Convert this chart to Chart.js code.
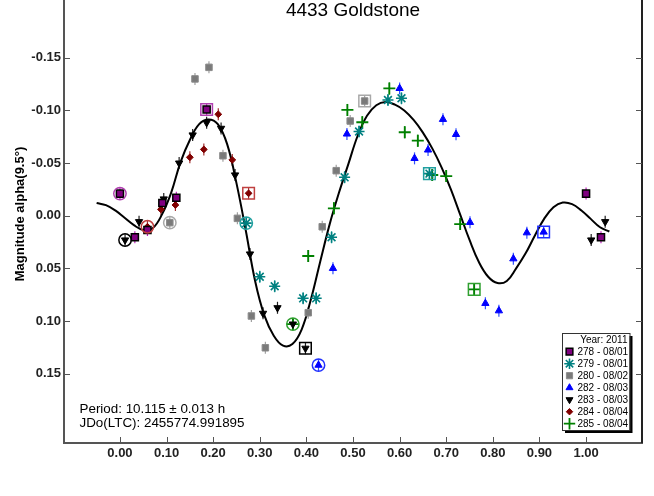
<!DOCTYPE html>
<html>
<head>
<meta charset="utf-8">
<script src="https://cdn.jsdelivr.net/npm/chart.js@4.4.1/dist/chart.umd.min.js"></script>
<style>
    html, body { margin: 0; padding: 0; background: #fff; }
    canvas { display: block; }
</style>
</head>
<body>
<canvas id="lcChart" width="654" height="496"></canvas>
<script>
    // ─── DATA ───
    const xTicks = [0.00, 0.10, 0.20, 0.30, 0.40, 0.50, 0.60, 0.70, 0.80, 0.90, 1.00];
    const yTicks = [-0.15, -0.10, -0.05, 0.00, 0.05, 0.10, 0.15];

    // fourier fit
    const fitPhase = [-0.05, -0.03, -0.01, 0.01, 0.03, 0.05, 0.07, 0.09, 0.11, 0.13, 0.15, 0.17, 0.19, 0.21, 0.23,
        0.25, 0.27, 0.29, 0.31, 0.33, 0.35, 0.37, 0.39, 0.41, 0.43, 0.45, 0.47, 0.49, 0.51, 0.53, 0.55, 0.57, 0.59,
        0.61, 0.63, 0.65, 0.67, 0.69, 0.71, 0.73, 0.75, 0.77, 0.79, 0.81, 0.83, 0.85, 0.87, 0.89, 0.91, 0.93, 0.95,
        0.97, 0.99, 1.01, 1.03, 1.05];
    const fitMag = [-0.012, -0.010, -0.005, 0.002, 0.009, 0.0135, 0.012, -0.001, -0.022, -0.051, -0.072, -0.087,
        -0.0915, -0.087, -0.068, -0.031, 0.014, 0.062, 0.095, 0.114, 0.1235, 0.122, 0.108, 0.079, 0.043, 0.008,
        -0.022, -0.049, -0.076, -0.095, -0.105, -0.108, -0.1055, -0.100, -0.091, -0.079, -0.064, -0.046, -0.025,
        -0.001, 0.023, 0.044, 0.058, 0.064, 0.062, 0.050, 0.036, 0.019, 0.003, -0.008, -0.0125, -0.011, -0.005,
        0.003, 0.011, 0.015];

    // sessions: [phase, mag], in time order (first one gets a circle, last one a box)
    const s278 = [[0.000, -0.021], [0.032, 0.0205], [0.059, 0.0136], [0.091, -0.012], [0.121, -0.017], [0.186, -0.101]];
    const s279 = [[0.271, 0.007], [0.300, 0.058], [0.332, 0.067], [0.393, 0.0785], [0.421, 0.0785], [0.454, 0.0205],
        [0.482, -0.0365], [0.513, -0.080], [0.575, -0.110], [0.604, -0.1116], [0.664, -0.040]];
    const s280 = [[0.107, 0.0066], [0.161, -0.130], [0.191, -0.141], [0.221, -0.057], [0.252, 0.0025], [0.282, 0.0953],
        [0.312, 0.1255], [0.404, 0.0922], [0.434, 0.0105], [0.464, -0.0428], [0.494, -0.090], [0.525, -0.109]];
    const s282 = [[0.426, 0.142], [0.457, 0.050], [0.487, -0.0777], [0.600, -0.121], [0.632, -0.0545], [0.661, -0.0625],
        [0.693, -0.0916], [0.721, -0.0773], [0.751, 0.0063], [0.784, 0.0833], [0.813, 0.0903], [0.844, 0.0409],
        [0.873, 0.0162], [0.909, 0.0155]];
    const s283 = [[0.011, 0.0231], [0.041, 0.0057], [0.094, -0.0159], [0.127, -0.050], [0.156, -0.0767], [0.186, -0.0884],
        [0.217, -0.083], [0.247, -0.0387], [0.279, 0.0364], [0.307, 0.0928], [0.338, 0.0875], [0.371, 0.103],
        [0.398, 0.126]];
    const s284 = [[0.059, 0.0105], [0.088, -0.006], [0.119, -0.0102], [0.150, -0.0555], [0.180, -0.063], [0.211, -0.0964],
        [0.241, -0.053], [0.276, -0.0213]];
    const s285 = [[0.371, 0.103], [0.404, 0.0383], [0.459, -0.007], [0.488, -0.1005], [0.520, -0.0888], [0.578, -0.121],
        [0.611, -0.0793], [0.639, -0.0713], [0.670, -0.0387], [0.700, -0.0377], [0.730, 0.0079], [0.760, 0.070]];

    const sessionNames = ['278 - 08/01', '279 - 08/01', '280 - 08/02', '282 - 08/03', '283 - 08/03', '284 - 08/04', '285 - 08/04'];
    const yearLabel = 'Year: 2011';
    const chartTitle = '4433 Goldstone';
    const yTitle = 'Magnitude alpha(9.5°)';
    const periodText = 'Period: 10.115 ± 0.013 h';
    const epochText = 'JDo(LTC): 2455774.991895';

    // ─── STYLES ───
    const FONT = '"Liberation Sans", Arial, sans-serif';
    const sessStyles = [
        { pts: s278, pointStyle: 'rect', radius: 5, fill: '#800080', edge: '#000000', bw: 1.5, bar: '#c020c0', ring: '#b040b0' },
        { pts: s279, pointStyle: 'star', radius: 5.5, fill: '#008080', edge: '#008080', bw: 1.6, bar: '#20a0a0', ring: '#20a0a0' },
        { pts: s280, pointStyle: 'rect', radius: 4.6, fill: '#7a7a7a', edge: '#8c8c8c', bw: 1, bar: '#a0a0a0', ring: '#a8a8a8' },
        { pts: s282, pointStyle: 'triangle', radius: 4.2, fill: '#0000ff', edge: '#0000ff', bw: 1, bar: '#3050ff', ring: '#2030ff' },
        { pts: s283, pointStyle: 'triangle', rotation: 180, radius: 4.2, fill: '#000000', edge: '#000000', bw: 1, bar: '#202020', ring: '#000000' },
        { pts: s284, pointStyle: 'rectRot', radius: 3.4, fill: '#800000', edge: '#800000', bw: 1, bar: '#a03030', ring: '#c04040' },
        { pts: s285, pointStyle: 'cross', radius: 6, fill: '#008000', edge: '#008000', bw: 1.8, bar: '#008000', ring: '#30a030' }
    ];

    // points near phase 0 are repeated past 1.0
    function withWrap(pts) {
        const out = pts.map(p => ({ x: p[0], y: p[1] }));
        pts.forEach(p => { if (p[0] < 0.05) out.push({ x: p[0] + 1, y: p[1] }); });
        return out;
    }

    const datasets = [];
    sessStyles.forEach((s, i) => {
        datasets.push({
            label: sessionNames[i],
            data: withWrap(s.pts),
            pointStyle: s.pointStyle,
            rotation: s.rotation || 0,
            pointRadius: s.radius,
            backgroundColor: s.fill,
            borderColor: s.edge,
            borderWidth: s.bw,
            showLine: false,
            errBar: s.bar,
            order: 1
        });
    });
    // first / last point of each session
    datasets.push({
        label: 'first',
        data: sessStyles.map(s => ({ x: s.pts[0][0], y: s.pts[0][1] })),
        pointStyle: 'circle',
        pointRadius: 6.2,
        backgroundColor: 'rgba(0,0,0,0)',
        borderColor: sessStyles.map(s => s.ring),
        borderWidth: 1.5,
        showLine: false,
        order: 0
    });
    datasets.push({
        label: 'last',
        data: sessStyles.map(s => ({ x: s.pts[s.pts.length - 1][0], y: s.pts[s.pts.length - 1][1] })),
        pointStyle: 'rect',
        pointRadius: 8.2,
        backgroundColor: 'rgba(0,0,0,0)',
        borderColor: sessStyles.map(s => s.ring),
        borderWidth: 1.5,
        showLine: false,
        order: 0
    });
    datasets.push({
        type: 'line',
        label: 'fit',
        data: fitPhase.map((x, i) => ({ x: x, y: fitMag[i] })),
        borderColor: '#000',
        borderWidth: 2,
        pointRadius: 0,
        tension: 0.4,
        fill: false,
        order: 10
    });

    // ─── PLUGINS ───
    // plot frame runs up to the top edge of the canvas
    const fullHeight = {
        id: 'fullHeight',
        afterLayout(chart) {
            const a = chart.chartArea, ys = chart.scales.y;
            a.top = 0;
            a.height = a.bottom - a.top;
            ys.top = 0;
            ys.height = ys.bottom - ys.top;
            ys.configure();
        }
    };

    const errBars = {
        id: 'errBars',
        beforeDatasetsDraw(chart) {
            const ctx = chart.ctx;
            ctx.save();
            chart.data.datasets.forEach((ds, i) => {
                if (!ds.errBar) return;
                ctx.strokeStyle = ds.errBar;
                ctx.lineWidth = 1.2;
                chart.getDatasetMeta(i).data.forEach(pt => {
                    ctx.beginPath();
                    ctx.moveTo(pt.x, pt.y - 6);
                    ctx.lineTo(pt.x, pt.y + 6);
                    ctx.stroke();
                });
            });
            ctx.restore();
        }
    };

    const decorations = {
        id: 'decorations',
        afterDraw(chart) {
            const ctx = chart.ctx;
            const a = chart.chartArea;
            const xs = chart.scales.x, ys = chart.scales.y;
            ctx.save();

            // right frame + inward ticks
            ctx.strokeStyle = '#222';
            ctx.lineWidth = 2;
            ctx.beginPath();
            ctx.moveTo(a.right, a.top);
            ctx.lineTo(a.right, a.bottom);
            ctx.stroke();
            ctx.strokeStyle = '#555';
            ctx.lineWidth = 1;
            yTicks.forEach(v => {
                const y = Math.round(ys.getPixelForValue(v)) + 0.5;
                ctx.beginPath();
                ctx.moveTo(a.left, y); ctx.lineTo(a.left + 6, y);
                ctx.moveTo(a.right - 6, y); ctx.lineTo(a.right, y);
                ctx.stroke();
            });
            xTicks.forEach(v => {
                const x = Math.round(xs.getPixelForValue(v)) + 0.5;
                ctx.beginPath();
                ctx.moveTo(x, a.bottom); ctx.lineTo(x, a.bottom - 6);
                ctx.stroke();
            });

            // title
            ctx.fillStyle = '#000';
            ctx.font = '19px ' + FONT;
            ctx.textAlign = 'center';
            ctx.textBaseline = 'alphabetic';
            ctx.fillText(chartTitle, (a.left + a.right) / 2, 15.5);

            // y title
            ctx.save();
            ctx.translate(24, 214);
            ctx.rotate(-Math.PI / 2);
            ctx.font = 'bold 13px ' + FONT;
            ctx.textAlign = 'center';
            ctx.textBaseline = 'alphabetic';
            ctx.fillText(yTitle, 0, 0);
            ctx.restore();

            // period / epoch
            ctx.font = '13.4px ' + FONT;
            ctx.textAlign = 'left';
            ctx.fillText(periodText, 79.5, 413);
            ctx.fillText(epochText, 79.5, 427);

            // legend box
            const bx = 562, by = 333, bw = 67.5, bh = 97;
            ctx.fillStyle = '#000';
            ctx.fillRect(bx + 3, by + 3, bw, bh);
            ctx.fillStyle = '#fff';
            ctx.fillRect(bx, by, bw, bh);
            ctx.strokeStyle = '#333';
            ctx.lineWidth = 1;
            ctx.strokeRect(bx + 0.5, by + 0.5, bw, bh);
            ctx.fillStyle = '#000';
            ctx.font = '10px ' + FONT;
            ctx.textAlign = 'right';
            ctx.textBaseline = 'middle';
            ctx.fillText(yearLabel, bx + bw - 2, by + 7);
            ctx.textAlign = 'left';
            sessStyles.forEach((s, i) => {
                const ly = by + 18.7 + i * 12;
                ctx.fillStyle = s.fill;
                ctx.strokeStyle = s.edge;
                ctx.lineWidth = s.bw;
                Chart.helpers.drawPoint(ctx, {
                    pointStyle: s.pointStyle,
                    radius: s.radius * 0.95,
                    rotation: s.rotation || 0,
                    borderWidth: s.bw
                }, 569.5, ly);
                ctx.fillStyle = '#000';
                ctx.fillText(sessionNames[i], 577.5, ly + 0.5);
            });
            ctx.restore();
        }
    };

    // ─── CHART ───
    const tickFont = { family: FONT, size: 13, weight: 'bold' };
    new Chart(document.getElementById('lcChart'), {
        type: 'scatter',
        data: { datasets: datasets },
        options: {
            responsive: false,
            animation: false,
            devicePixelRatio: 1,
            layout: { padding: { left: 0, right: 12, top: 0, bottom: 0 } },
            plugins: { legend: { display: false }, tooltip: { enabled: false }, title: { display: false } },
            scales: {
                x: {
                    type: 'linear',
                    min: -0.12,
                    max: 1.12,
                    afterBuildTicks: s => { s.ticks = xTicks.map(v => ({ value: v })); },
                    afterFit: s => { s.height = 53; s.paddingLeft = 0; s.paddingRight = 0; },
                    ticks: { font: tickFont, color: '#222', padding: 3, callback: v => v.toFixed(2), maxRotation: 0, autoSkip: false },
                    grid: { display: false, drawTicks: false },
                    border: { display: true, color: '#555', width: 2 }
                },
                y: {
                    type: 'linear',
                    reverse: true,
                    min: -0.205,
                    max: 0.216,
                    afterBuildTicks: s => { s.ticks = yTicks.map(v => ({ value: v })); },
                    afterFit: s => { s.width = 64; },
                    ticks: { font: tickFont, color: '#222', padding: 3, callback: v => v.toFixed(2), autoSkip: false },
                    grid: { display: false, drawTicks: false },
                    border: { display: true, color: '#555', width: 2 }
                }
            }
        },
        plugins: [fullHeight, errBars, decorations]
    });
</script>
</body>
</html>
